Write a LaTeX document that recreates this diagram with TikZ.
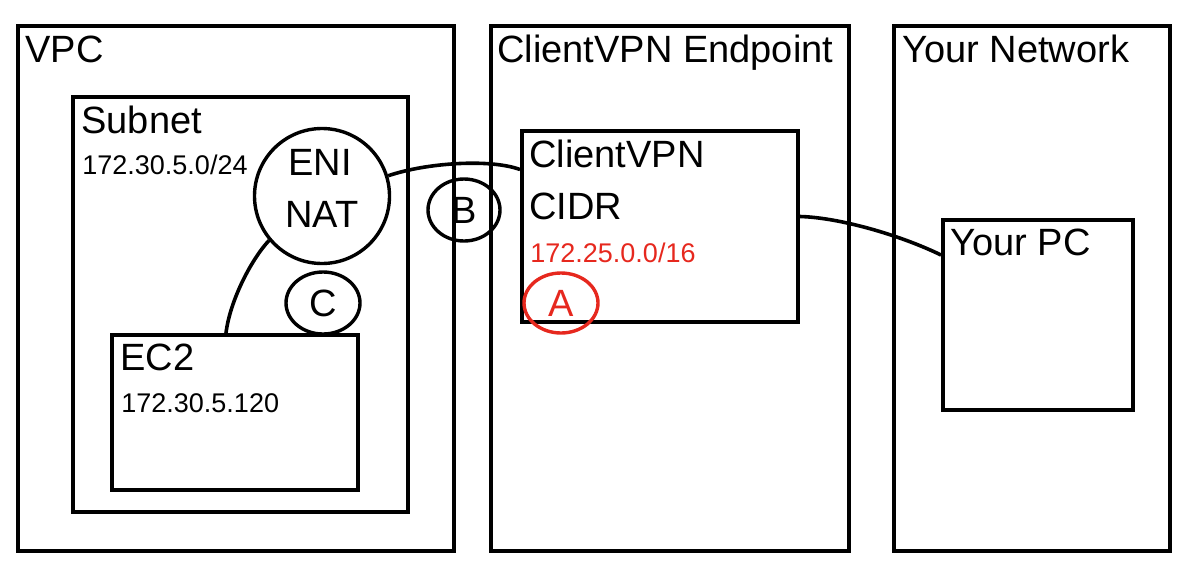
\documentclass[tikz,border=0pt]{standalone}
\usepackage{fontspec}
\setmainfont{Liberation Sans}
\usetikzlibrary{shapes.geometric,calc}
\definecolor{mark}{RGB}{230,40,30}
\begin{document}
\begin{tikzpicture}[x=0.5pt,y=-0.5pt,
  frame/.style={draw=black,line width=2pt,rectangle,inner sep=0pt},
  ring/.style={draw=black,line width=1.7pt,ellipse,inner sep=0pt,font=\fontsize{19pt}{23pt}\selectfont},
  big/.style={anchor=base west,inner sep=0pt,font=\fontsize{19pt}{23pt}\selectfont},
  bigc/.style={anchor=base,inner sep=0pt,font=\fontsize{19pt}{23pt}\selectfont},
  small/.style={anchor=base west,inner sep=0pt,font=\fontsize{13.5pt}{16pt}\selectfont},
  link/.style={draw=black,line width=1.8pt}
]
\useasboundingbox (0,0) rectangle (1190,574);
% outer frames
\node[frame,minimum width=218.25pt,minimum height=262.5pt] (vpc) at (235.75,288.5) {};
\node[frame,minimum width=179.25pt,minimum height=262.5pt] (cve) at (669.75,288.5) {};
\node[frame,minimum width=138.25pt,minimum height=262.5pt] (yn) at (1031.75,288.5) {};
% inner boxes
\node[frame,minimum width=167.5pt,minimum height=207.5pt] (subnet) at (240.5,304.5) {};
\node[frame,minimum width=123pt,minimum height=77.5pt] (ec2) at (235,412.5) {};
\node[frame,minimum width=138pt,minimum height=95.5pt] (cvpn) at (660,226.5) {};
\node[frame,minimum width=95pt,minimum height=95pt] (pc) at (1038,315) {};
% circles
\node[ring,circle,minimum size=67.5pt] (eni) at (322,196) {};
\node[ring,minimum width=36pt,minimum height=31pt] (b) at (464,210) {B};
\node[ring,minimum width=37pt,minimum height=31pt] (c) at (323,303) {C};
\node[ring,draw=mark,text=mark,minimum width=37pt,minimum height=30pt] (a) at (561,303) {A};
% texts
\node[big] (tvpc) at (25,62) {VPC};
\node[big] (tcve) at (497,62) {ClientVPN Endpoint};
\node[big] (tyn) at (902,62) {Your Network};
\node[big] (tsub) at (81,133) {Subnet};
\node[small] (tsubip) at (82,174) {172.30.5.0/24};
\node[bigc] (teni) at (320,175) {ENI};
\node[bigc] (tnat) at (322,227) {NAT};
\node[big] (tcvpn) at (529,167) {ClientVPN};
\node[big] (tcidr) at (529,219) {CIDR};
\node[small,text=mark] (tcidrip) at (530,262) {172.25.0.0/16};
\node[big] (tpc) at (950,255) {Your PC};
\node[big] (tec2) at (120,370) {EC2};
\node[small] (tec2ip) at (121,412) {172.30.5.120};
% connectors
\draw[link] (eni.17) .. controls +(38,-13) and +(-30,-11) .. ($(cvpn.west)+(0,-57)$);
\draw[link] (eni.220) .. controls +(-17,18) and +(4,-33) .. ($(ec2.north)+(-9,0)$);
\draw[link] ($(cvpn.east)+(0,-10)$) .. controls +(39,1) and +(-41,-20) .. ($(pc.west)+(0,-60)$);
\end{tikzpicture}
\end{document}
